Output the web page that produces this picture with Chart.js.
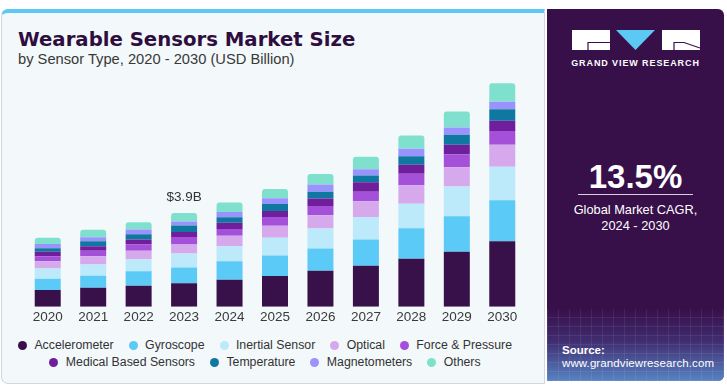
<!DOCTYPE html>
<html>
<head>
<meta charset="utf-8">
<script src="https://cdn.jsdelivr.net/npm/chart.js@4/dist/chart.umd.min.js"></script>
<style>
  html, body { margin: 0; padding: 0; background: #ffffff; }
  body { width: 727px; height: 388px; position: relative; overflow: hidden; font-family: "Liberation Sans", Arial, sans-serif; }
  .card { position: absolute; left: 1px; top: 9px; width: 542px; height: 370px; background: #f3f8fb;
          border: 1px solid #d3d7da; border-top: 4px solid #5cc9f4; border-radius: 7px 0 0 7px; }
  #title { position: absolute; left: 18px; top: 30px; font-family: "DejaVu Sans", sans-serif; font-weight: bold;
           font-size: 19.7px; line-height: 20px; color: #2e0d3f; white-space: nowrap; }
  #subtitle { position: absolute; left: 18px; top: 51px; font-size: 14.7px; line-height: 16px; color: #383838; white-space: nowrap; }
  #chartWrap { position: absolute; left: 0; top: 0; width: 545px; height: 327px; }
  #legend { position: absolute; left: 2px; top: 337px; width: 526px; display: flex; flex-wrap: wrap; justify-content: center; column-gap: 15px; }
  .lg-item { display: flex; align-items: center; height: 17px; line-height: 17px; font-size: 12.3px; color: #333; white-space: nowrap; }
  .lg-dot { width: 9px; height: 9px; border-radius: 50%; margin-right: 7.4px; flex: none; }
  .lg-break { flex-basis: 100%; height: 0; }
  .panel { position: absolute; left: 547px; top: 9px; width: 177px; height: 372px; background: #37104a;
           border-radius: 0 6px 6px 0; overflow: hidden; }
  .panel-bottom { position: absolute; left: 0; bottom: 0; width: 100%; height: 72px;
           background:
             repeating-linear-gradient(90deg, rgba(255,255,255,0.07) 0 1px, transparent 1px 11px),
             repeating-linear-gradient(0deg, rgba(255,255,255,0.07) 0 1px, transparent 1px 9px),
             linear-gradient(to bottom, rgba(55,16,74,0) 0%, rgba(75,80,160,0.45) 45%, rgba(95,160,225,0.8) 100%); }
  .logo { position: absolute; left: 570px; top: 28px; }
  .brand { position: absolute; left: 547px; width: 177px; top: 57px; text-align: center; color: #fff; font-weight: bold;
           font-size: 9px; letter-spacing: 0.9px; line-height: 12px; }
  .cagr { position: absolute; left: 547px; width: 177px; top: 160px; text-align: center; color: #fff; font-weight: bold;
          font-size: 33px; line-height: 34px; }
  .rule { position: absolute; left: 578px; width: 115px; top: 194px; height: 1px; background: #d8d0df; }
  .cagr-txt { position: absolute; left: 547px; width: 177px; top: 202px; text-align: center; color: #fff;
              font-size: 12.8px; line-height: 16px; }
  .src1 { position: absolute; left: 562px; top: 343px; color: #fff; font-weight: bold; font-size: 11.5px; line-height: 14px; }
  .src2 { position: absolute; left: 562px; top: 356px; color: #fff; font-size: 11.5px; line-height: 14px; letter-spacing: 0.1px; }
</style>
</head>
<body>
<div class="card"></div>
<div id="title">Wearable Sensors Market Size</div>
<div id="subtitle">by Sensor Type, 2020 - 2030 (USD Billion)</div>
<div id="chartWrap"><canvas id="chart" width="545" height="327"></canvas></div>
<div id="legend"></div>

<div class="panel"><div class="panel-bottom"></div></div>
<svg class="logo" width="134" height="24" viewBox="0 0 134 24">
  <rect x="2" y="2" width="38" height="20" fill="#ffffff"/>
  <polyline points="18,22 18,14.5 40,14.5" fill="none" stroke="#37104a" stroke-width="1.2"/>
  <polygon points="46,2 85,2 65.5,22" fill="#5cc9f4"/>
  <rect x="92" y="2" width="38" height="20" fill="#ffffff"/>
  <polyline points="104,22 104,14.5 114,14.5 130,20" fill="none" stroke="#37104a" stroke-width="1.2"/>
</svg>
<div class="brand">GRAND VIEW RESEARCH</div>
<div class="cagr">13.5%</div>
<div class="rule"></div>
<div class="cagr-txt">Global Market CAGR,<br>2024 - 2030</div>
<div class="src1">Source:</div>
<div class="src2">www.grandviewresearch.com</div>

<script>
// ---- Data (USD Billion) ----
const years = ['2020', '2021', '2022', '2023', '2024', '2025', '2026', '2027', '2028', '2029', '2030'];
const accelerometer = [0.70, 0.79, 0.88, 0.98, 1.13, 1.28, 1.50, 1.71, 2.00, 2.30, 2.73];
const gyroscope     = [0.47, 0.50, 0.60, 0.66, 0.77, 0.86, 0.93, 1.10, 1.28, 1.48, 1.71];
const inertial      = [0.43, 0.47, 0.50, 0.58, 0.62, 0.74, 0.84, 0.93, 1.02, 1.24, 1.40];
const optical       = [0.30, 0.35, 0.36, 0.38, 0.44, 0.50, 0.55, 0.66, 0.77, 0.80, 0.92];
const forcePressure = [0.21, 0.23, 0.26, 0.31, 0.28, 0.36, 0.38, 0.40, 0.48, 0.54, 0.57];
const medical       = [0.19, 0.18, 0.21, 0.21, 0.27, 0.26, 0.32, 0.39, 0.37, 0.40, 0.43];
const temperature   = [0.14, 0.21, 0.22, 0.27, 0.22, 0.29, 0.28, 0.29, 0.36, 0.41, 0.48];
const magnetometers = [0.18, 0.17, 0.19, 0.17, 0.22, 0.24, 0.30, 0.26, 0.31, 0.31, 0.31];
const others        = [0.26, 0.31, 0.31, 0.35, 0.40, 0.38, 0.44, 0.52, 0.55, 0.66, 0.77];

const seriesNames = ['Accelerometer', 'Gyroscope', 'Inertial Sensor', 'Optical', 'Force & Pressure',
                     'Medical Based Sensors', 'Temperature', 'Magnetometers', 'Others'];
const seriesValues = [accelerometer, gyroscope, inertial, optical, forcePressure, medical, temperature, magnetometers, others];
const seriesColors = ['#38104a', '#5ccaf6', '#bdeafa', '#d6a9ec', '#a550d9', '#6f1f9b', '#0f78a0', '#9b93fd', '#7fe1cd'];

const calloutYear = '2023';
const calloutText = '$3.9B';

const datasets = seriesNames.map((name, i) => ({
  label: name,
  data: seriesValues[i],
  backgroundColor: seriesColors[i],
  borderWidth: 0,
  borderSkipped: false,
  borderRadius: i === seriesNames.length - 1 ? {topLeft: 3, topRight: 3, bottomLeft: 0, bottomRight: 0} : 0,
  categoryPercentage: 1,
  barPercentage: 0.572
}));

const calloutPlugin = {
  id: 'callout',
  afterDatasetsDraw(chart) {
    const idx = years.indexOf(calloutYear);
    if (idx < 0) return;
    const total = chart.data.datasets.reduce((s, d) => s + d.data[idx], 0);
    const x = chart.scales.x.getPixelForValue(idx);
    const y = chart.scales.y.getPixelForValue(total);
    const ctx = chart.ctx;
    ctx.save();
    ctx.font = '13.5px "Liberation Sans", Arial, sans-serif';
    ctx.fillStyle = '#333333';
    ctx.textAlign = 'center';
    ctx.textBaseline = 'alphabetic';
    ctx.fillText(calloutText, x, y - 12);
    ctx.restore();
  }
};

const chart = new Chart(document.getElementById('chart'), {
  type: 'bar',
  data: { labels: years, datasets },
  options: {
    responsive: false,
    animation: false,
    devicePixelRatio: 1,
    layout: { padding: { left: 25, right: 20, top: 67, bottom: 0 } },
    scales: {
      x: {
        stacked: true,
        grid: { display: false, drawTicks: false },
        border: { display: false },
        ticks: { color: '#3a3a3a', padding: 2, font: { family: '"Liberation Sans", Arial, sans-serif', size: 13.5 } }
      },
      y: { stacked: true, display: false, min: 0, max: 10 }
    },
    plugins: { legend: { display: false }, tooltip: { enabled: false } }
  },
  plugins: [calloutPlugin]
});

// HTML legend built from the chart's datasets
const legendEl = document.getElementById('legend');
chart.data.datasets.forEach((ds, i) => {
  if (i === 5) { const br = document.createElement('div'); br.className = 'lg-break'; legendEl.appendChild(br); }
  const item = document.createElement('div');
  item.className = 'lg-item';
  const dot = document.createElement('span');
  dot.className = 'lg-dot';
  dot.style.background = ds.backgroundColor;
  const txt = document.createElement('span');
  txt.textContent = ds.label;
  item.appendChild(dot); item.appendChild(txt);
  legendEl.appendChild(item);
});
</script>
</body>
</html>
